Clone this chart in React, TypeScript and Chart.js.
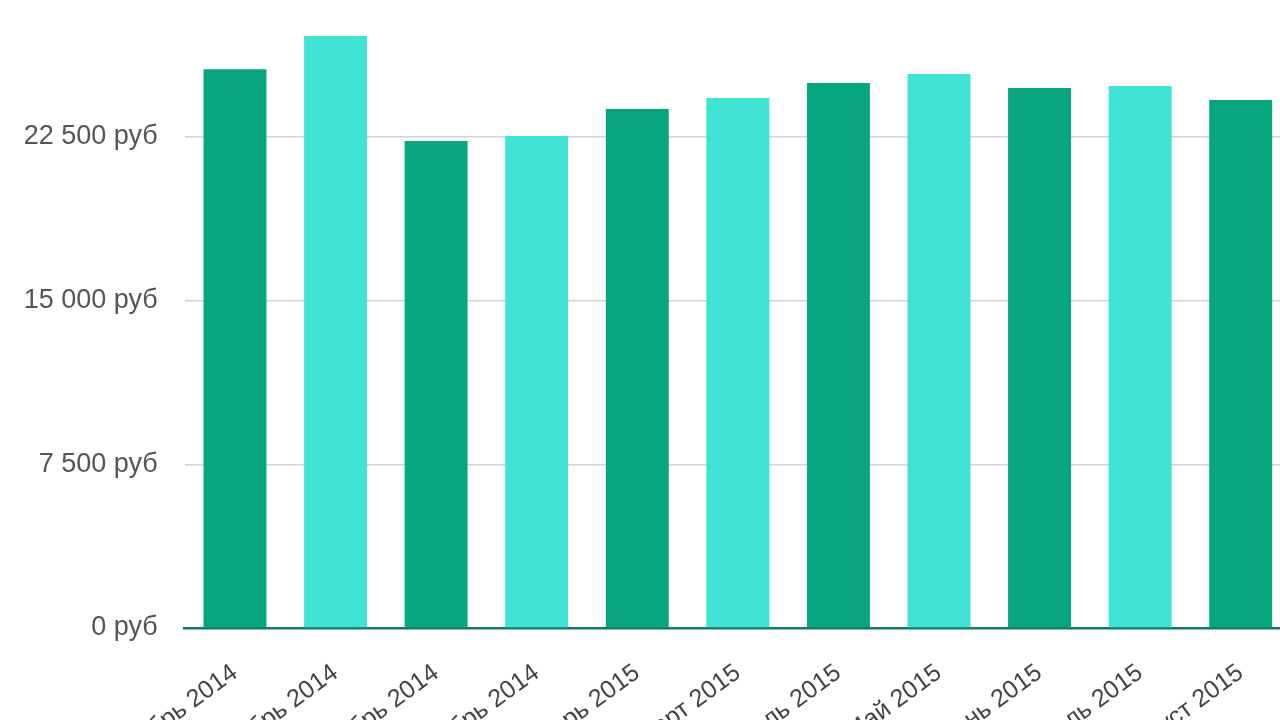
import React, { useEffect, useRef } from "react";
import { Chart, registerables } from "chart.js";

Chart.register(...registerables);

const categories = [
  "Сентябрь 2014",
  "Октябрь 2014",
  "Ноябрь 2014",
  "Декабрь 2014",
  "Январь 2015",
  "Март 2015",
  "Апрель 2015",
  "Май 2015",
  "Июнь 2015",
  "Июль 2015",
  "Август 2015",
];

const salaries = [25600, 27120, 22310, 22540, 23780, 24280, 24970, 25380, 24740, 24830, 24190];

const barColors = ["#08a67f", "#40e2d6"];

const yTicks = [0, 7500, 15000, 22500, 30000];

function formatRub(v: number): string {
  const s = Math.round(v).toString().replace(/\B(?=(\d{3})+(?!\d))/g, " ");
  return s + " руб";
}

export default function App() {
  const ref = useRef<HTMLCanvasElement | null>(null);

  useEffect(() => {
    if (!ref.current) return;
    const chart = new Chart(ref.current, {
      type: "bar",
      data: {
        labels: categories,
        datasets: [
          {
            data: salaries,
            backgroundColor: salaries.map((_, i) => barColors[i % 2]),
            borderWidth: 0,
            categoryPercentage: 1,
            barPercentage: 0.626,
          },
        ],
      },
      options: {
        animation: false,
        responsive: true,
        maintainAspectRatio: false,
        layout: { padding: { top: 23, left: 0, right: 9, bottom: 0 } },
        plugins: {
          legend: { display: false },
          title: { display: false },
          tooltip: { enabled: false },
        },
        scales: {
          x: {
            offset: true,
            grid: { display: false, drawTicks: false },
            border: { display: true, color: "#127a62", width: 2.5 },
            ticks: {
              autoSkip: false,
              minRotation: 36,
              maxRotation: 36,
              padding: 30,
              color: "#444",
              font: { family: "'Liberation Sans', Arial, sans-serif", size: 25 },
            },
            afterFit: (scale: any) => {
              scale.height = 150;
            },
          },
          y: {
            min: 0,
            max: 30000,
            afterBuildTicks: (scale: any) => {
              scale.ticks = yTicks.map((v) => ({ value: v }));
            },
            grid: { color: "#d2d2d2", lineWidth: 1.5, drawTicks: false },
            border: { display: false },
            ticks: {
              padding: 27,
              color: "#555",
              font: { family: "'Liberation Sans', Arial, sans-serif", size: 27 },
              callback: (v: any) => formatRub(Number(v)),
            },
            afterFit: (scale: any) => {
              scale.width = 184.7;
            },
          },
        },
      },
    });
    return () => chart.destroy();
  }, []);

  return (
    <div
      style={{
        position: "fixed",
        left: 0,
        top: 0,
        width: 1280,
        height: 720,
        overflow: "hidden",
        background: "#fff",
      }}
    >
      <div style={{ position: "absolute", left: 0, top: -70, width: 1300, height: 848 }}>
        <canvas ref={ref} />
      </div>
    </div>
  );
}
